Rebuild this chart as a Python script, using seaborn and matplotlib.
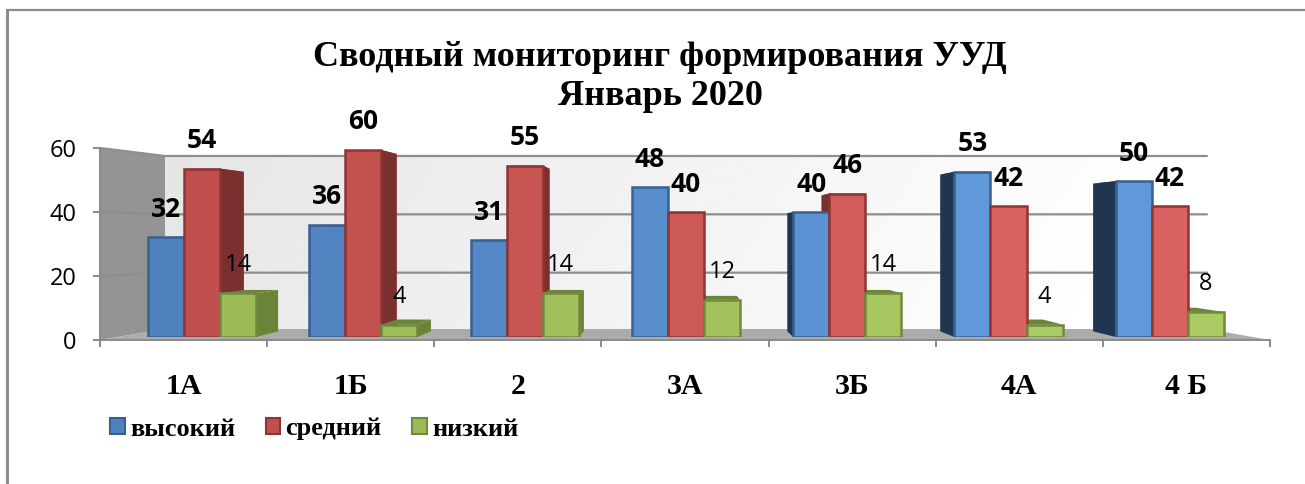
import numpy as np
import pandas as pd
import matplotlib
matplotlib.use("Agg")
import matplotlib.pyplot as plt
from matplotlib.colors import to_rgb
import seaborn as sns

# ---- data ----
categories = ["1А", "1Б", "2", "3А", "3Б", "4А", "4 Б"]
series_names = ["высокий", "средний", "низкий"]
high = [32, 36, 31, 48, 40, 53, 50]
medium = [54, 60, 55, 40, 46, 42, 42]
low = [14, 4, 14, 12, 14, 4, 8]
y_ticks = [0, 20, 40, 60]
title_text = "Сводный мониторинг формирования УУД\nЯнварь 2020"

# ---- styles / layout (pixels of the 1305x484 picture) ----
W, H = 1305, 484
sns.set_theme(style="white")
plt.rcParams["font.family"] = ["Open Sans", "DejaVu Sans"]
SERIF = ["Liberation Serif", "DejaVu Serif"]
front_l = {"высокий": "#4F81BD", "средний": "#C0504D", "низкий": "#9BBB59"}
front_r = {"высокий": "#6098DA", "средний": "#D8625F", "низкий": "#AACB63"}
edge = {"высокий": "#376092", "средний": "#8E3533", "низкий": "#71893F"}
side = {"высокий": "#1F3550", "средний": "#7A302E", "низкий": "#6A8538"}


def rect(l, t, r, b):
    return [l / W, 1 - b / H, (r - l) / W, (b - t) / H]


fig = plt.figure(figsize=(W / 100, H / 100), dpi=100)

# background: frame, walls, floor
bg = fig.add_axes([0, 0, 1, 1], zorder=0)
bg.set_xlim(0, W)
bg.set_ylim(H, 0)
bg.axis("off")
bg.plot([7, 7], [H, 10], color="#8c8c8c", lw=2.2, solid_capstyle="butt")
bg.plot([6, W], [10, 10], color="#8c8c8c", lw=1.6, solid_capstyle="butt")

BL, BR, BT, BB = 165, 1207, 156, 329
FL, FR, F0, F60 = 100, 1270, 340, 148
grad = np.linspace(0.90, 1.0, 256).reshape(1, -1)
grad = grad * np.ones((64, 1)) + np.linspace(0, 0.01, 64).reshape(-1, 1)
bg.imshow(np.clip(grad, 0, 1), cmap="gray", vmin=0, vmax=1, aspect="auto",
          extent=(BL, BR, BB, BT), zorder=1)
bg.set_xlim(0, W)
bg.set_ylim(H, 0)
bg.fill([FL, BL, BL, FL], [F60, BT, BB, F0], color="#949494", zorder=2, lw=0)
bg.fill([FL, BL, BR, FR], [F0, BB, BB, F0], color="#ABABAB", zorder=2, lw=0)
for t in y_ticks[1:]:
    yf = F0 + (F60 - F0) * t / 60
    yb = BB + 2 + (BT - BB - 2) * t / 60
    bg.plot([FL, BL, BR], [yf, yb, yb], color="#8E8E8E", lw=1.6, zorder=3,
            solid_joinstyle="miter")

# front axis: ticks and tick labels
axf = fig.add_axes(rect(FL, F60, FR, F0), zorder=1)
axf.patch.set_alpha(0)
axf.set_xlim(-0.5, 6.5)
axf.set_ylim(0, 60)
for s in ["top", "right"]:
    axf.spines[s].set_visible(False)
for s in ["left", "bottom"]:
    axf.spines[s].set_color("#8a8a8a")
    axf.spines[s].set_linewidth(1.4)
axf.set_yticks(y_ticks)
axf.set_xticks(range(len(categories)))
axf.set_xticklabels(categories, fontfamily=SERIF, fontweight="bold", fontsize=21.5)
axf.set_xticks(np.arange(-0.5, 7), minor=True)
axf.tick_params(axis="x", which="major", length=0, pad=23.5, colors="black")
axf.tick_params(axis="x", which="minor", length=5, width=1.4, color="#8a8a8a",
                bottom=True)
axf.tick_params(axis="y", length=5, width=1.4, color="#8a8a8a", left=True,
                labelsize=17, pad=12, labelcolor="black")

# bars
BAR_SPACING = 161.3
BAR_C0 = 202
BAR_Y0 = 337
PX_PER_UNIT = 3.117
YMAX = 70
ax = fig.add_axes(rect(BAR_C0 - BAR_SPACING / 2, BAR_Y0 - YMAX * PX_PER_UNIT,
                       BAR_C0 + 6.5 * BAR_SPACING, BAR_Y0), zorder=2)
ax.patch.set_alpha(0)

df = pd.DataFrame({
    "класс": np.tile(categories, 3),
    "уровень": np.repeat(series_names, len(categories)),
    "значение": high + medium + low,
})
sns.barplot(data=df, x="класс", y="значение", hue="уровень", order=categories,
            hue_order=series_names, palette=front_l, width=0.67, gap=0,
            saturation=1, ax=ax, legend=True, zorder=5)
ax.set_xlim(-0.5, 6.5)
ax.set_ylim(0, YMAX)
ax.set_xlabel("")
ax.set_ylabel("")
ax.set_xticks([])
ax.set_yticks([])
sns.despine(ax=ax, left=True, bottom=True)

# 3-D sides computed from each bar, shrinking towards a vanishing point
VX = (680 - BAR_C0) / BAR_SPACING
VY = (BAR_Y0 - 228) / PX_PER_UNIT
K = 0.052


def back(x, y):
    return x + K * (VX - x), y + K * (VY - y)


for name, container in zip(series_names, ax.containers):
    left_c = np.array(to_rgb(front_l[name]))
    right_c = np.array(to_rgb(front_r[name]))
    for i, p in enumerate(container.patches):
        x0, x1 = p.get_x(), p.get_x() + p.get_width()
        h = p.get_height()
        f = min(1, i / 5) ** 1.3
        p.set_facecolor(tuple(left_c + (right_c - left_c) * f))
        p.set_edgecolor(edge[name])
        p.set_linewidth(1.8)
        p.set_joinstyle("miter")
        xv = x1 if x1 < VX else x0
        pts = [(xv, 0), (xv, h), back(xv, h), back(xv, 0)]
        ax.fill(*zip(*pts), color=side[name], lw=0, zorder=3)
        pts = [(x0, h), (x1, h), back(x1, h), back(x0, h)]
        ax.fill(*zip(*pts), color=side[name], lw=0, zorder=3)
        ax.annotate(str(int(h)), (p.get_x() + p.get_width() / 2, h),
                    xytext=(0, 28 * 0.72), textcoords="offset points",
                    ha="center", va="center", color="black", zorder=8,
                    fontsize=19 if name != "низкий" else 17,
                    fontweight="bold" if name != "низкий" else "normal")

# title
bg.text(660, 77, title_text, ha="center", va="center", fontfamily=SERIF,
        fontweight="bold", fontsize=26, color="black", linespacing=1.22, zorder=6)

# legend
sns.move_legend(ax, "center left",
                bbox_to_anchor=(110 / W, 1 - 429 / H),
                bbox_transform=fig.transFigure, ncol=3, title=None, frameon=False,
                prop={"family": SERIF, "weight": "bold", "size": 19},
                labelcolor="black",
                handlelength=0.56, handleheight=0.56, handletextpad=0.2,
                columnspacing=1.15, borderpad=0, borderaxespad=0)
for h_, name in zip(ax.get_legend().legend_handles, series_names):
    h_.set_edgecolor(edge[name])
    h_.set_linewidth(1.5)
    h_.set_facecolor(front_l[name])

fig.savefig("out.png", dpi=100, facecolor="white")
